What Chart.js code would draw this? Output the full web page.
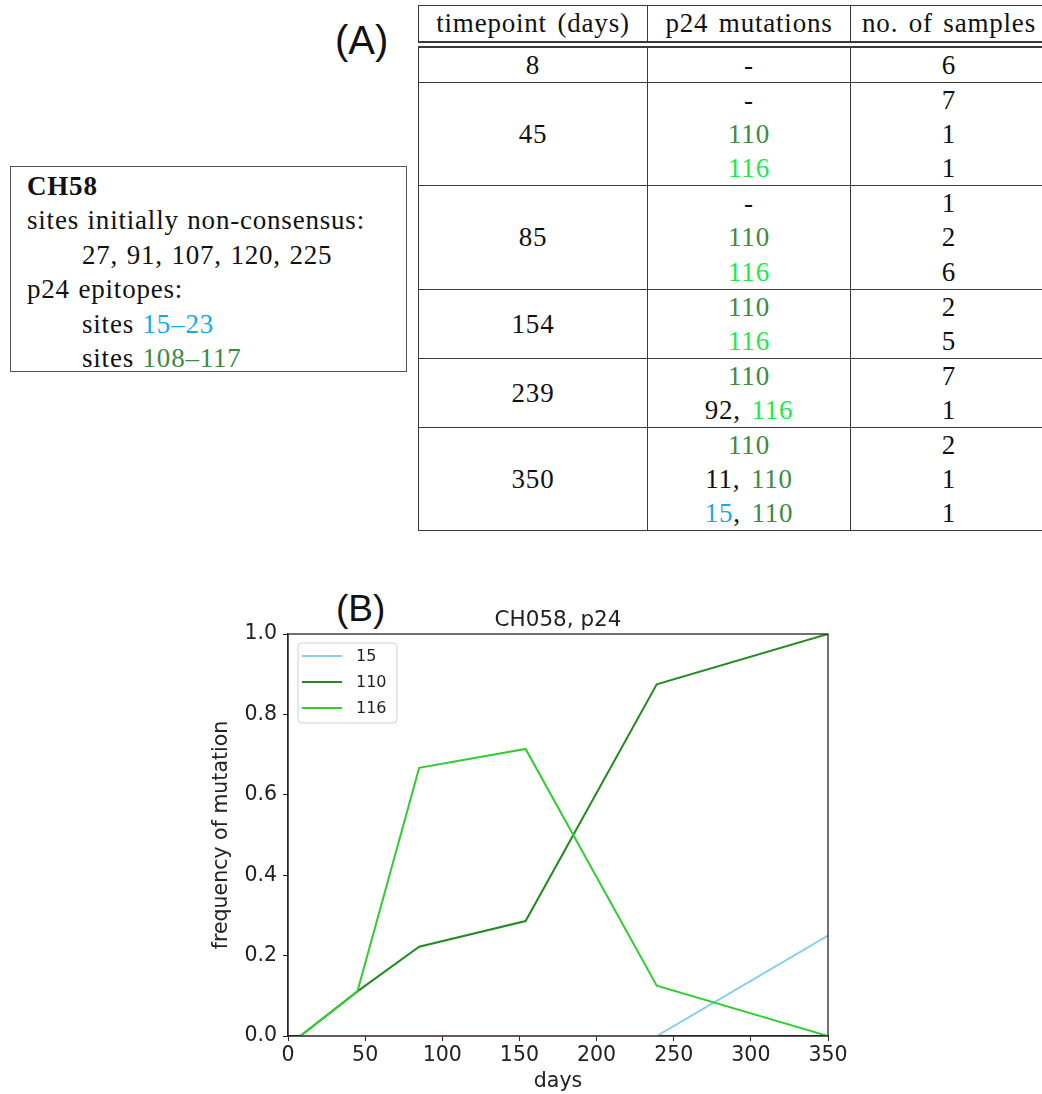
<!DOCTYPE html>
<html>
<head>
<meta charset="utf-8">
<script src="https://cdn.jsdelivr.net/npm/chart.js@4.4.1/dist/chart.umd.min.js"></script>
<style>
  html, body { margin:0; padding:0; background:#fff; }
  body { width:1042px; height:1094px; overflow:hidden; position:relative; }
  .lbl { position:absolute; font-family:"Liberation Sans", Arial, sans-serif; color:#111; line-height:1; }
  #infobox { position:absolute; left:10px; top:166px; width:397px; height:206px; border:1.5px solid #555;
    font-family:"Liberation Serif", serif; font-size:27px; letter-spacing:0.8px; word-spacing:1px; color:#111;
    box-sizing:border-box; padding:2px 0 0 16px; }
  #infobox div { height:34.4px; line-height:34.4px; white-space:nowrap; }
  #infobox .ind { padding-left:55px; }
  #tbl { position:absolute; left:418px; top:5px; width:629px; border-collapse:collapse; table-layout:fixed;
    font-family:"Liberation Serif", serif; font-size:27px; letter-spacing:0.8px; word-spacing:3px; color:#111; }
  #tbl td, #tbl th { border-left:1.8px solid #3a3a3a; border-right:1.8px solid #3a3a3a; text-align:center;
    padding:0; height:34.1px; line-height:34.1px; font-weight:normal; white-space:nowrap; overflow:hidden; }
  #tbl th { height:35px; border-top:1.8px solid #3a3a3a; border-bottom:7px double #3a3a3a; }
  #tbl tr.g td { border-top:1.8px solid #3a3a3a; }
  #tbl { border-bottom:1.8px solid #3a3a3a; }
  .dg { color:#3d8a42; }
  .bg { color:#1de84a; }
  .cy { color:#17abdd; }
  #chartwrap { position:absolute; left:200px; top:595px; width:660px; height:499px; }
</style>
</head>
<body>
<div class="lbl" style="left:335px; top:20px; font-size:40px;">(A)</div>
<div class="lbl" style="left:336px; top:590px; font-size:37px;">(B)</div>

<div id="infobox">
  <div><b>CH58</b></div>
  <div>sites initially non-consensus:</div>
  <div class="ind">27, 91, 107, 120, 225</div>
  <div>p24 epitopes:</div>
  <div class="ind">sites <span class="cy">15–23</span></div>
  <div class="ind">sites <span class="dg">108–117</span></div>
</div>

<table id="tbl">
  <colgroup><col style="width:229px"><col style="width:203px"><col style="width:197px"></colgroup>
  <tr><th>timepoint (days)</th><th>p24 mutations</th><th>no. of samples</th></tr>
  <tr class="g"><td>8</td><td>-</td><td>6</td></tr>
  <tr class="g"><td rowspan="3">45</td><td>-</td><td>7</td></tr>
  <tr><td class="dg">110</td><td>1</td></tr>
  <tr><td class="bg">116</td><td>1</td></tr>
  <tr class="g"><td rowspan="3">85</td><td>-</td><td>1</td></tr>
  <tr><td class="dg">110</td><td>2</td></tr>
  <tr><td class="bg">116</td><td>6</td></tr>
  <tr class="g"><td rowspan="2">154</td><td class="dg">110</td><td>2</td></tr>
  <tr><td class="bg">116</td><td>5</td></tr>
  <tr class="g"><td rowspan="2">239</td><td class="dg">110</td><td>7</td></tr>
  <tr><td>92, <span class="bg">116</span></td><td>1</td></tr>
  <tr class="g"><td rowspan="3">350</td><td class="dg">110</td><td>2</td></tr>
  <tr><td>11, <span class="dg">110</span></td><td>1</td></tr>
  <tr><td><span class="cy">15</span>, <span class="dg">110</span></td><td>1</td></tr>
</table>

<div id="chartwrap"><canvas id="c" width="660" height="499"></canvas></div>

<script>
// ---- data ----
const days = [8, 45, 85, 154, 239, 350];
const seriesLabels = ['15', '110', '116'];
const freq15  = [0, 0, 0, 0, 0, 0.25];
const freq110 = [0, 0.111, 0.222, 0.286, 0.875, 1.0];
const freq116 = [0, 0.111, 0.667, 0.714, 0.125, 0];
const seriesColors = ['#87CEEB', '#228B22', '#32CD32'];
const xTicks = [0, 50, 100, 150, 200, 250, 300, 350];
const yTicks = [0.0, 0.2, 0.4, 0.6, 0.8, 1.0];

const toPts = arr => days.map((d, i) => ({x: d, y: arr[i]}));
const allSeries = [freq15, freq110, freq116];

const FONT = '"DejaVu Sans", sans-serif';
const AX = '#262626';

const frameAndLegend = {
  id: 'frameAndLegend',
  afterDatasetsDraw(chart) {
    const {ctx, chartArea: a} = chart;
    ctx.save();
    ctx.strokeStyle = AX; ctx.lineWidth = 1.3;
    ctx.strokeRect(a.left, a.top, a.right - a.left, a.bottom - a.top);
    // legend box
    const bx = a.left + 10, by = a.top + 9, bw = 99, bh = 80, r = 4;
    ctx.beginPath();
    ctx.moveTo(bx + r, by); ctx.lineTo(bx + bw - r, by); ctx.quadraticCurveTo(bx + bw, by, bx + bw, by + r);
    ctx.lineTo(bx + bw, by + bh - r); ctx.quadraticCurveTo(bx + bw, by + bh, bx + bw - r, by + bh);
    ctx.lineTo(bx + r, by + bh); ctx.quadraticCurveTo(bx, by + bh, bx, by + bh - r);
    ctx.lineTo(bx, by + r); ctx.quadraticCurveTo(bx, by, bx + r, by);
    ctx.closePath();
    ctx.fillStyle = 'rgba(255,255,255,0.85)'; ctx.fill();
    ctx.strokeStyle = '#d0d0d0'; ctx.lineWidth = 1; ctx.stroke();
    chart.data.datasets.forEach((ds, i) => {
      const y = by + 13 + i * 26;
      ctx.beginPath(); ctx.moveTo(bx + 4, y); ctx.lineTo(bx + 44, y);
      ctx.strokeStyle = ds.borderColor; ctx.lineWidth = 2.2; ctx.stroke();
      ctx.fillStyle = '#222'; ctx.font = '16px ' + FONT; ctx.textBaseline = 'middle'; ctx.textAlign = 'left';
      ctx.fillText(ds.label, bx + 58, y + 1);
    });
    ctx.restore();
  }
};

new Chart(document.getElementById('c'), {
  type: 'line',
  data: {
    datasets: seriesLabels.map((lab, i) => ({
      label: lab,
      data: toPts(allSeries[i]),
      borderColor: seriesColors[i],
      backgroundColor: seriesColors[i],
      borderWidth: 2,
      pointRadius: 0,
      tension: 0,
      fill: false,
      order: 2 - i
    }))
  },
  options: {
    responsive: false,
    animation: false,
    layout: { padding: { left: 0, right: 32, top: 0, bottom: 0 } },
    plugins: {
      legend: { display: false },
      tooltip: { enabled: false },
      title: { display: true, fullSize: false, text: 'CH058, p24', color: '#222',
        font: { family: FONT, size: 21.5, weight: 'normal' }, padding: { top: 12.5, bottom: 0.7 } }
    },
    scales: {
      x: {
        type: 'linear', min: 0, max: 350,
        afterBuildTicks: s => { s.ticks = xTicks.map(v => ({value: v})); },
        afterFit: s => { s.height = 58; },
        ticks: { color: '#222', font: { family: FONT, size: 20.5 }, padding: 2, maxRotation: 0 },
        grid: { drawOnChartArea: false, drawTicks: true, tickLength: 5, color: AX },
        border: { color: AX, width: 1.3 },
        title: { display: true, text: 'days', color: '#222', font: { family: FONT, size: 20.5 }, padding: { top: 0, bottom: 0 } }
      },
      y: {
        type: 'linear', min: 0, max: 1,
        afterBuildTicks: s => { s.ticks = yTicks.map(v => ({value: v})); },
        afterFit: s => { s.width = 88; },
        ticks: { color: '#222', font: { family: FONT, size: 20.5 }, padding: 6, callback: v => v.toFixed(1) },
        grid: { drawOnChartArea: false, drawTicks: true, tickLength: 5, color: AX },
        border: { color: AX, width: 1.3 },
        title: { display: true, text: 'frequency of mutation', color: '#222', font: { family: FONT, size: 20.5 }, padding: { top: 9.5, bottom: 0 } }
      }
    }
  },
  plugins: [frameAndLegend]
});
</script>
</body>
</html>
